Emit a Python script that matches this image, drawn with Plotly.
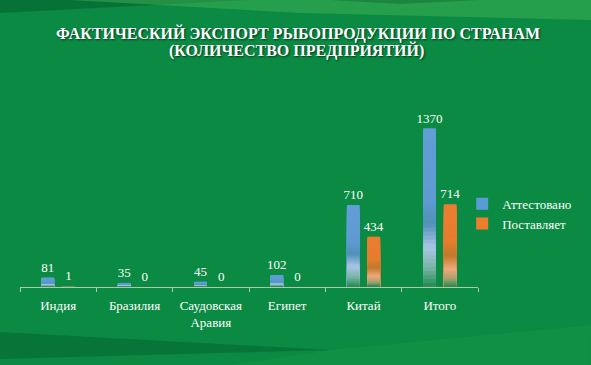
import plotly.graph_objects as go

categories = ["Индия", "Бразилия", "Саудовская<br>Аравия", "Египет", "Китай", "Итого"]
certified = [81, 35, 45, 102, 710, 1370]
supplying = [1, 0, 0, 0, 434, 714]
series_names = ["Аттестовано", "Поставляет"]
title_lines = ["ФАКТИЧЕСКИЙ ЭКСПОРТ РЫБОПРОДУКЦИИ ПО СТРАНАМ", "(КОЛИЧЕСТВО ПРЕДПРИЯТИЙ)"]

BG = "#0a8a42"
SERIF = "Liberation Serif"
W, H = 591, 365
ML, MR, MT, MB = 20, 113, 102, 78
PW, PH = W - ML - MR, H - MT - MB

# gradient stops (fraction of bar height from bottom, rgb)
blue_stops = [(0.0, (30, 140, 80)), (0.12, (120, 180, 165)), (0.25, (170, 198, 230)),
              (0.4, (80, 145, 185)), (0.55, (95, 155, 210)), (1.0, (98, 158, 214))]
orange_stops = [(0.0, (30, 140, 80)), (0.1, (170, 160, 110)), (0.22, (242, 168, 122)),
                (0.38, (190, 122, 42)), (0.55, (230, 124, 46)), (1.0, (237, 125, 49))]


def interp(stops, f):
    for (f0, c0), (f1, c1) in zip(stops[:-1], stops[1:]):
        if f0 <= f <= f1:
            t = (f - f0) / (f1 - f0) if f1 > f0 else 0
            return "rgb(%d,%d,%d)" % tuple(round(a + (b - a) * t) for a, b in zip(c0, c1))
    return "rgb(%d,%d,%d)" % stops[-1][1]


fig = go.Figure()
N = 40
for name, vals, base_col, stops in [(series_names[0], certified, "#5b9bd5", blue_stops),
                                     (series_names[1], supplying, "#ed7d31", orange_stops)]:
    fig.add_trace(go.Bar(
        x=categories, y=vals, name=name, offsetgroup=name,
        marker=dict(color=base_col, line=dict(width=0)),
        text=[str(v) for v in vals], textposition="outside", cliponaxis=False,
        constraintext="none",
        textfont=dict(family=SERIF, size=13, color="white"),
        hoverinfo="skip",
    ))
    for i in range(N, 0, -1):
        f = i / N
        fig.add_trace(go.Bar(
            x=categories, y=[v * f for v in vals],
            offsetgroup=name, showlegend=False, hoverinfo="skip",
            marker=dict(color=interp(stops, (i - 0.5) / N), line=dict(width=0)),
        ))


def px_x(x):
    return (x - ML) / PW


def px_y(y):
    return (H - MB - y) / PH


def pth(points):
    return "M " + " L ".join("%.4f %.4f" % (px_x(x), px_y(y)) for x, y in points) + " Z"


bg_parts = [
    ([(0, 0), (250, 0), (0, 13)], "rgba(0,60,25,0.30)"),
    ([(70, 0), (591, 0), (591, 20), (300, 13)], "rgba(80,190,95,0.40)"),
    ([(330, 0), (480, 0), (400, 4)], "rgba(0,60,25,0.25)"),
    ([(0, 332), (330, 350), (0, 359)], "rgba(0,70,30,0.30)"),
    ([(330, 350), (591, 325), (591, 365), (230, 365)], "rgba(40,170,80,0.18)"),
]
shapes = [dict(type="path", xref="paper", yref="paper", path=pth(p), fillcolor=c,
               line=dict(width=0), layer="below") for p, c in bg_parts]

title_font = dict(family=SERIF, size=16, color="white", weight="bold",
                  shadow="1px 1px 2px rgba(0,0,0,0.6)")
annotations = [
    dict(text=title_lines[0], xref="paper", yref="paper", x=px_x(298), y=px_y(33),
         xanchor="center", yanchor="middle", showarrow=False, font=title_font),
    dict(text=title_lines[1], xref="paper", yref="paper", x=px_x(296), y=px_y(50),
         xanchor="center", yanchor="middle", showarrow=False, font=title_font),
]

fig.update_layout(
    width=W, height=H,
    paper_bgcolor=BG, plot_bgcolor="rgba(0,0,0,0)",
    margin=dict(l=ML, r=MR, t=MT, b=MB, autoexpand=False),
    barmode="group", bargap=0.46, bargroupgap=0.39,
    font=dict(family=SERIF, size=13, color="white"),
    xaxis=dict(showline=True, linecolor="#a9caab", linewidth=1, ticks="outside",
               tickson="boundaries", ticklen=4, tickcolor="#a9caab", showgrid=False,
               ticklabelstandoff=6,
               tickfont=dict(family=SERIF, size=13, color="white")),
    yaxis=dict(range=[0, 1600], visible=False, showgrid=False),
    legend=dict(xref="container", yref="container", x=0.782, xanchor="left",
                y=0.483, yanchor="top", bgcolor="rgba(0,0,0,0)",
                font=dict(family=SERIF, size=13, color="white"), tracegroupgap=0,
                itemwidth=30),
    shapes=shapes,
    annotations=annotations,
    showlegend=True,
)

fig.write_html("out.html", config={"displayModeBar": False},
               post_script="document.body.style.margin='0';")
